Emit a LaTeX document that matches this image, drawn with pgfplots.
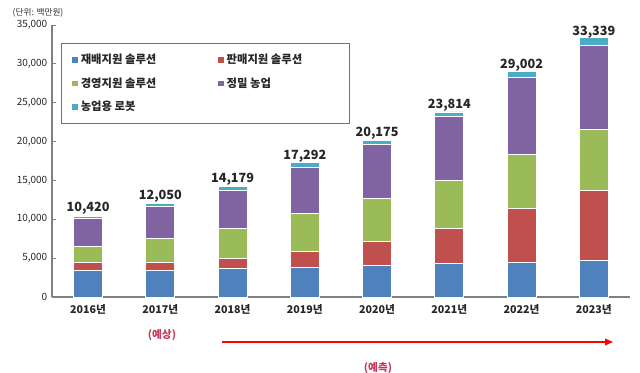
\documentclass[border=0pt]{standalone}
\usepackage{pgfplots}
\pgfplotsset{compat=1.18}
\usepackage{pgfplotstable}
\usepackage{fontspec}
\setmainfont{Noto Sans CJK KR}
\usetikzlibrary{arrows.meta}
\definecolor{cblue}{HTML}{4F81BD}
\definecolor{cred}{HTML}{C0504D}
\definecolor{cgreen}{HTML}{9BBB59}
\definecolor{cpurple}{HTML}{8064A2}
\definecolor{ccyan}{HTML}{4BACC6}
\definecolor{annot}{HTML}{C8385A}
\pgfplotstableread{
x blue red green purple cyan total
0 3380 1030 2145 3510 355 10420
1 3420 1080 2990 4155 405 12050
2 3680 1280 3820 4970 429 14179
3 3805 2105 4790 6010 582 17292
4 4020 3130 5570 6855 600 20175
5 4280 4540 6130 8265 599 23814
6 4450 6940 6940 9950 722 29002
7 4700 9000 7890 10800 949 33339
}\data
\begin{document}
\begin{tikzpicture}
\useasboundingbox (-39pt,-57pt) rectangle (441pt,222.75pt);
\pgfplotsset{mylegend/.style={legend image code/.code={\fill[##1,draw=none] (0pt,-2.2pt) rectangle (4.4pt,2.2pt);}}}
\begin{axis}[
  at={(0,0)}, anchor=south west,
  scale only axis, width=433.5pt, height=204pt,
  ybar stacked, bar width=21.75pt,
  xmin=-0.5, xmax=7.5, ymin=0, ymax=35000,
  axis lines=left, axis line style={draw=black!50, line width=0.8pt, -},
  xtick={0,...,7},
  xticklabels={2016년,2017년,2018년,2019년,2020년,2021년,2022년,2023년},
  xticklabel style={font=\fontsize{8}{9}\selectfont\bfseries, text=black!85, yshift=-2pt},
  major x tick style={draw=none},
  extra x ticks={0.5,1.5,2.5,3.5,4.5,5.5,6.5},
  extra x tick labels={},
  extra x tick style={tick style={draw=black!50, line width=0.6pt}, major tick length=3pt, tick align=inside},
  ytick={0,5000,...,35000},
  yticklabel style={font=\fontsize{7.5}{9}\selectfont, text=black!85},
  ytick style={draw=black!50, line width=0.6pt},
  major tick length=3pt, tick align=inside,
  /pgf/number format/assume math mode=true,
  /pgf/number format/1000 sep={,},
  scaled y ticks=false,
  clip=false,
  every axis plot/.append style={draw=white, line width=0.6pt},
  legend columns=2,
  legend style={at={(0.0156,0.934)}, anchor=north west, draw=black!55, line width=0.9pt,
    font=\fontsize{8.5}{10}\selectfont\bfseries, text=black!85,
    inner xsep=8pt, inner ysep=6pt, row sep=5pt,
    cells={anchor=west}},
]
\addplot[fill=cblue, mylegend] table[x=x,y=blue] {\data};
\addlegendentry{\makebox[101pt][l]{재배지원 솔루션}}
\addplot[fill=cred, mylegend] table[x=x,y=red] {\data};
\addlegendentry{\makebox[82pt][l]{판매지원 솔루션}}
\addplot[fill=cgreen, mylegend] table[x=x,y=green] {\data};
\addlegendentry{\makebox[101pt][l]{경영지원 솔루션}}
\addplot[fill=cpurple, mylegend] table[x=x,y=purple] {\data};
\addlegendentry{\makebox[82pt][l]{정밀 농업}}
\addplot[fill=ccyan, mylegend, point meta=explicit,
  nodes near coords={\pgfmathprintnumber{\pgfplotspointmeta}},
  every node near coord/.append style={font=\fontsize{9.5}{11}\selectfont\bfseries, text=black!85, anchor=south, yshift=-1.5pt}]
  table[x=x,y=cyan,meta=total] {\data};
\addlegendentry{\makebox[101pt][l]{농업용 로봇}}
\end{axis}
\node[font=\fontsize{6.5}{7}\selectfont, text=black!80, anchor=west] at (-33pt,213pt) {(단위: 백만원)};
\node[font=\fontsize{8}{9}\selectfont\bfseries, text=annot] at (82.5pt,-28.5pt) {(예상)};
\draw[red, line width=1.1pt, -{Triangle[length=6pt,width=5pt]}] (127.5pt,-33.75pt) -- (420.75pt,-33.75pt);
\node[font=\fontsize{8}{9}\selectfont\bfseries, text=annot] at (244.5pt,-53.25pt) {(예측)};
\end{tikzpicture}
\end{document}
